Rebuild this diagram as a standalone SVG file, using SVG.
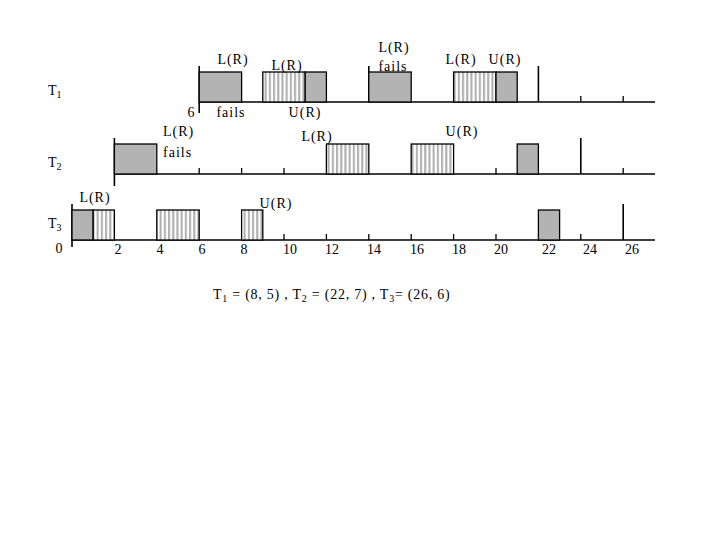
<svg xmlns="http://www.w3.org/2000/svg" width="720" height="540" viewBox="0 0 720 540">
<defs>
<pattern id="stripe" patternUnits="userSpaceOnUse" x="0" y="0" width="4.2" height="10">
<rect x="0" y="0" width="4.2" height="10" fill="#ffffff"/>
<rect x="0" y="0" width="2.1" height="10" fill="#b0b0b0"/>
</pattern>
</defs>
<style>
.ax{stroke:#000;stroke-width:1.6;fill:none}
.tk{stroke:#000;stroke-width:1.3;fill:none}
.g{fill:#b3b3b3;stroke:#000;stroke-width:1.3}
.s{fill:url(#stripe);stroke:#000;stroke-width:1.3}
text{font-family:"Liberation Serif","Times New Roman",serif;font-size:14px;fill:#000}
.lb{letter-spacing:1px}
.c{text-anchor:middle}
.f{letter-spacing:0.75px}
</style>
<rect width="720" height="540" fill="#fff"/>
<g id="connectors">
<line class="ax" x1="199.2" y1="102" x2="655" y2="102"/>
<line class="ax" x1="199.2" y1="66" x2="199.2" y2="113"/>
<line class="ax" x1="368.8" y1="66" x2="368.8" y2="102"/>
<line class="ax" x1="538.4" y1="66" x2="538.4" y2="102"/>
<line class="tk" x1="580.8" y1="96" x2="580.8" y2="102"/>
<line class="tk" x1="623.2" y1="96" x2="623.2" y2="102"/>
<line class="ax" x1="114.4" y1="174" x2="655" y2="174"/>
<line class="ax" x1="114.4" y1="138" x2="114.4" y2="186"/>
<line class="ax" x1="580.8" y1="138" x2="580.8" y2="174"/>
<line class="tk" x1="199.2" y1="168" x2="199.2" y2="174"/>
<line class="tk" x1="241.6" y1="168" x2="241.6" y2="174"/>
<line class="tk" x1="284" y1="168" x2="284" y2="174"/>
<line class="tk" x1="496" y1="168" x2="496" y2="174"/>
<line class="tk" x1="623.2" y1="168" x2="623.2" y2="174"/>
<line class="ax" x1="72" y1="240" x2="655" y2="240"/>
<line class="ax" x1="72" y1="204" x2="72" y2="247"/>
<line class="ax" x1="623.2" y1="204" x2="623.2" y2="240"/>
<line class="tk" x1="284" y1="234" x2="284" y2="240"/>
<line class="tk" x1="326.4" y1="234" x2="326.4" y2="240"/>
<line class="tk" x1="368.8" y1="234" x2="368.8" y2="240"/>
<line class="tk" x1="411.2" y1="234" x2="411.2" y2="240"/>
<line class="tk" x1="453.6" y1="234" x2="453.6" y2="240"/>
<line class="tk" x1="496" y1="234" x2="496" y2="240"/>
<line class="tk" x1="580.8" y1="234" x2="580.8" y2="240"/>
</g>
<g id="T1">
<text x="48" y="95" font-size="15">T<tspan font-size="10" dy="3">1</tspan></text>
<rect class="g" x="199.2" y="72" width="42.4" height="30"/>
<rect class="s" x="262.8" y="72" width="42.4" height="30"/>
<rect class="g" x="305.2" y="72" width="21.2" height="30"/>
<rect class="g" x="368.8" y="72" width="42.4" height="30"/>
<rect class="s" x="453.6" y="72" width="42.4" height="30"/>
<rect class="g" x="496" y="72" width="21.2" height="30"/>
<text class="lb c" x="233" y="64">L(R)</text>
<text class="lb c" x="231" y="117">fails</text>
<text class="c" x="191" y="117">6</text>
<text class="lb c" x="287" y="70">L(R)</text>
<text class="lb c" x="305" y="117">U(R)</text>
<text class="lb c" x="394" y="52">L(R)</text>
<text class="lb c" x="393" y="71">fails</text>
<text class="lb c" x="461" y="64">L(R)</text>
<text class="lb c" x="505" y="64">U(R)</text>
</g>
<g id="T2">
<text x="48" y="167" font-size="15">T<tspan font-size="10" dy="3">2</tspan></text>
<rect class="g" x="114.4" y="144" width="42.4" height="30"/>
<rect class="s" x="326.4" y="144" width="42.4" height="30"/>
<rect class="s" x="411.2" y="144" width="42.4" height="30"/>
<rect class="g" x="517.2" y="144" width="21.2" height="30"/>
<text class="lb" x="163" y="136">L(R)</text>
<text class="lb" x="163" y="157">fails</text>
<text class="lb c" x="317" y="141">L(R)</text>
<text class="lb c" x="462" y="136">U(R)</text>
</g>
<g id="T3">
<text x="48" y="228" font-size="15">T<tspan font-size="10" dy="3">3</tspan></text>
<rect class="g" x="72" y="210" width="21.2" height="30"/>
<rect class="s" x="93.2" y="210" width="21.2" height="30"/>
<rect class="s" x="156.8" y="210" width="42.4" height="30"/>
<rect class="s" x="241.6" y="210" width="21.2" height="30"/>
<rect class="g" x="538.4" y="210" width="21.2" height="30"/>
<text class="lb c" x="95" y="202">L(R)</text>
<text class="lb c" x="276" y="208">U(R)</text>
</g>
<g id="axis-labels">
<text class="c" x="59" y="253">0</text>
<text class="c" x="118" y="254">2</text>
<text class="c" x="160" y="254">4</text>
<text class="c" x="202" y="254">6</text>
<text class="c" x="244" y="254">8</text>
<text class="c" x="290" y="254">10</text>
<text class="c" x="332" y="254">12</text>
<text class="c" x="374" y="254">14</text>
<text class="c" x="417" y="254">16</text>
<text class="c" x="459" y="254">18</text>
<text class="c" x="501" y="254">20</text>
<text class="c" x="549" y="254">22</text>
<text class="c" x="590" y="254">24</text>
<text class="c" x="632" y="254">26</text>
</g>
<g id="formula">
<text class="f" x="213" y="299">T<tspan font-size="10" dy="3">1</tspan><tspan dy="-3"> = (8, 5) , T</tspan><tspan font-size="10" dy="3">2</tspan><tspan dy="-3"> = (22, 7) , T</tspan><tspan font-size="10" dy="3">3</tspan><tspan dy="-3">= (26, 6)</tspan></text>
</g>
</svg>
